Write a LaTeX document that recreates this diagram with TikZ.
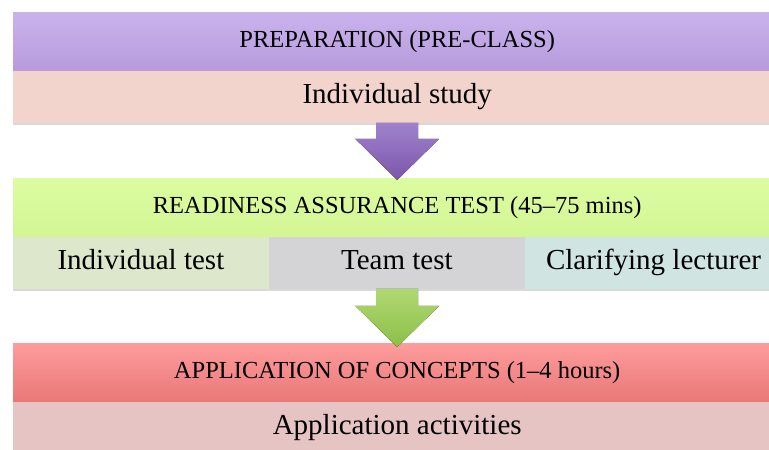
\documentclass[tikz,border=0pt]{standalone}
\usepackage{fontspec}
\setmainfont{Liberation Serif}
\usetikzlibrary{positioning,shadows,calc}

\definecolor{prepTop}{HTML}{C9B3ED}
\definecolor{prepBot}{HTML}{B79BDC}
\definecolor{studyPink}{HTML}{F2D4CC}
\definecolor{purpTop}{HTML}{9E82CD}
\definecolor{purpBot}{HTML}{7C56AA}
\definecolor{ratTop}{HTML}{DDFCA2}
\definecolor{ratBot}{HTML}{D3F694}
\definecolor{itestCol}{HTML}{DDE7CB}
\definecolor{ttestCol}{HTML}{D4D4D6}
\definecolor{clarCol}{HTML}{D0E4E1}
\definecolor{greenTop}{HTML}{B0D872}
\definecolor{greenBot}{HTML}{8CBF48}
\definecolor{appTop}{HTML}{FE9C9C}
\definecolor{appBot}{HTML}{E97878}
\definecolor{appRowCol}{HTML}{E6C4C4}

\begin{document}
\begin{tikzpicture}[
    x=1pt, y=1pt,
    head/.style={rectangle, minimum width=768pt, minimum height=58pt, inner sep=0pt, anchor=north west,
        text height=17pt, text depth=5pt, font=\fontsize{24.5}{29}\selectfont},
    row/.style={rectangle, minimum height=52pt, inner sep=0pt, text height=19pt, text depth=6pt,
        font=\fontsize{29}{34}\selectfont,
        drop shadow={shadow xshift=0pt, shadow yshift=-2.5pt, opacity=0.3}},
    purplearrow/.style={top color=purpTop, bottom color=purpBot},
    greenarrow/.style={top color=greenTop, bottom color=greenBot}
]
    \useasboundingbox (0,0) rectangle (769,-450);

    % Blocks
    \node[head, top color=prepTop, bottom color=prepBot] (prep) at (13,-12) {PREPARATION (PRE-CLASS)};
    \node[row, minimum width=768pt, fill=studyPink, below=0pt of prep] (study) {Individual study};

    \node[head, top color=ratTop, bottom color=ratBot] (rat) at (13,-178) {READINESS ASSURANCE TEST (45–75 mins)};
    \node[row, minimum width=255.5pt, fill=itestCol, anchor=north west] (itest) at (rat.south west) {Individual test};
    \node[row, minimum width=256.5pt, fill=ttestCol, right=-0.5pt of itest] (ttest) {Team test};
    \node[row, minimum width=257pt, fill=clarCol, right=-0.5pt of ttest] (clar) {Clarifying lecturer};

    \node[head, top color=appTop, bottom color=appBot] (app) at (13,-343) {APPLICATION OF CONCEPTS (1–4 hours)};
    \node[row, minimum width=768pt, fill=appRowCol, below=0pt of app] (acts) {Application activities};

    % Arrows
    \coordinate (a1) at (study.south);
    \coordinate (a2) at (rat.south |- itest.south);
    \fill[purplearrow] ($(a1)+(-21,0)$) -- ($(a1)+(21,0)$) -- ($(a1)+(21,-16)$) -- ($(a1)+(42,-16)$)
        -- ($(rat.north)+(0,-2)$) -- ($(a1)+(-42,-16)$) -- ($(a1)+(-21,-16)$) -- cycle;
    \fill[greenarrow] ($(a2)+(-21,0)$) -- ($(a2)+(21,0)$) -- ($(a2)+(21,-17)$) -- ($(a2)+(42,-17)$)
        -- ($(app.north)+(0,-4)$) -- ($(a2)+(-42,-17)$) -- ($(a2)+(-21,-17)$) -- cycle;
\end{tikzpicture}
\end{document}
